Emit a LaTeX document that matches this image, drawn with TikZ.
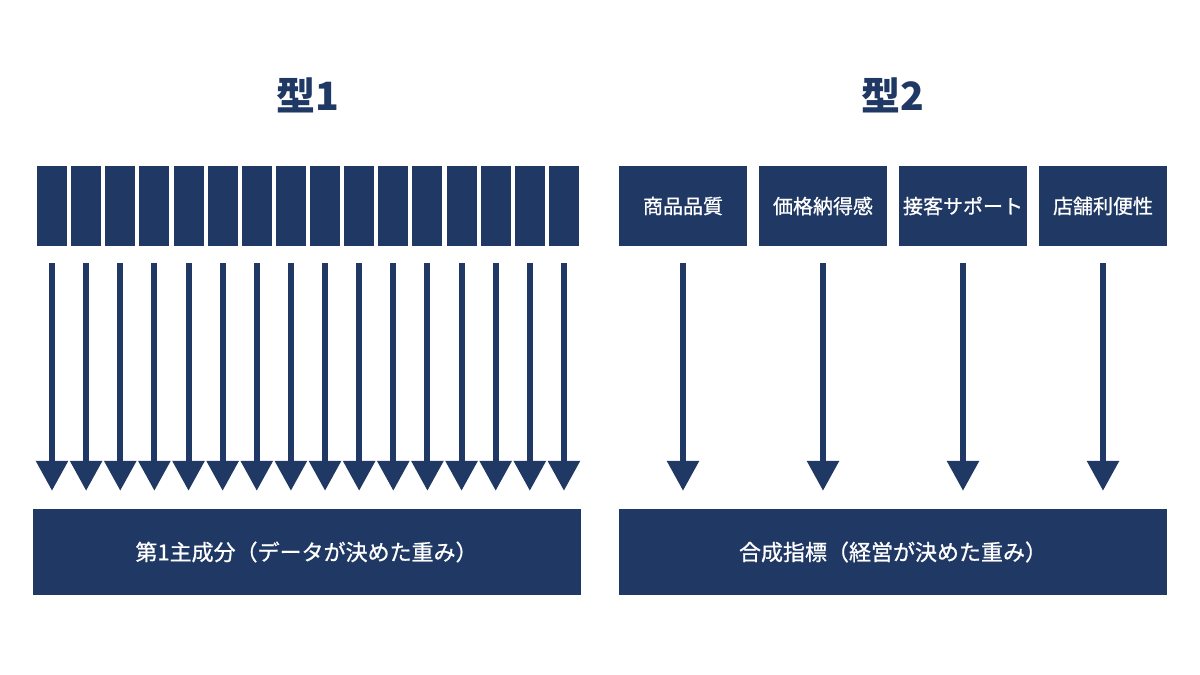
\documentclass[tikz,border=0pt]{standalone}
\usepackage{fontspec}
\setmainfont{Noto Sans CJK JP}
\newfontfamily\labelfont{Noto Sans CJK JP}[FakeBold=0.8]
\usetikzlibrary{arrows.meta}
\definecolor{navy}{RGB}{32,56,100}

\begin{document}
\begin{tikzpicture}[x=1pt,y=-1pt,
    bar/.style={fill=navy,minimum width=30pt,minimum height=80pt,inner sep=0pt},
    item/.style={fill=navy,text=white,minimum width=128pt,minimum height=80pt,inner sep=0pt,font=\labelfont\fontsize{20}{24}\selectfont},
    total/.style={fill=navy,text=white,minimum width=548pt,minimum height=86pt,inner sep=0pt,font=\labelfont\fontsize{22}{26}\selectfont},
    title/.style={text=navy,font=\bfseries\fontsize{39}{45}\selectfont},
    arr/.style={navy,line width=6pt,-{Triangle[width=31pt,length=30pt]},shorten <=17pt,shorten >=18pt}]
    \useasboundingbox (0,0) rectangle (1200,675);
    % titles
    \node[title] (t1) at (308,95) {型1};
    \node[title] (t2) at (893,95) {型2};
    % type 1
    \node[total] (sum1) at (306.5,552) {第1主成分（データが決めた重み）};
    \foreach \i in {1,...,16} {
        \node[bar] (a\i) at ({52+34.13*(\i-1)},206) {};
        \draw[arr] (a\i.south) -- (a\i.south |- sum1.north);
    }
    % type 2
    \node[total] (sum2) at (893,552) {合成指標（経営が決めた重み）};
    \foreach \name [count=\i] in {商品品質,価格納得感,接客サポート,店舗利便性} {
        \node[item] (b\i) at ({683+140*(\i-1)},206) {\name};
        \draw[arr] (b\i.south) -- (b\i.south |- sum2.north);
    }
\end{tikzpicture}
\end{document}
